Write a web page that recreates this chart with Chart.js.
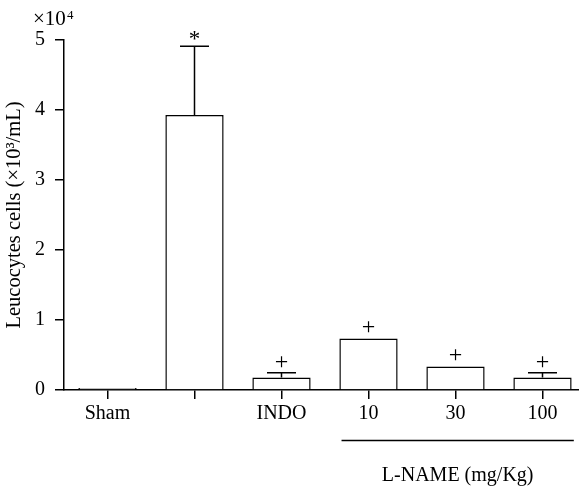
<!DOCTYPE html>
<html>
<head>
<meta charset="utf-8">
<script src="https://cdn.jsdelivr.net/npm/chart.js@4/dist/chart.umd.min.js"></script>
<style>
  html, body { margin: 0; padding: 0; background: #fff; overflow: hidden; }
  #wrap { width: 586px; height: 491px; position: relative; }
</style>
</head>
<body>
<div id="wrap"><canvas id="chart"></canvas></div>
<script>
const categories = ['Sham', '', 'INDO', '10', '30', '100'];
const means = [0.03, 3.93, 0.18, 0.735, 0.335, 0.18];
const errTops = [0.03, 4.91, 0.245, 0.745, 0.34, 0.245];
const markers = ['', '*', '+', '+', '+', '+'];
const yTicks = [0, 1, 2, 3, 4, 5];

const FONT = "'Liberation Serif', 'DejaVu Serif', serif";

const extras = {
  id: 'extras',
  afterDatasetsDraw(chart) {
    const ctx = chart.ctx;
    const x = chart.scales.x, y = chart.scales.y;
    ctx.save();
    ctx.strokeStyle = '#000';
    ctx.fillStyle = '#000';
    ctx.lineWidth = 1.5;
    // error bars
    means.forEach((m, i) => {
      const cx = x.getPixelForValue(i);
      const yb = y.getPixelForValue(m);
      const yt = y.getPixelForValue(errTops[i]);
      if (yb - yt > 2) {
        ctx.beginPath();
        ctx.moveTo(cx, yb);
        ctx.lineTo(cx, yt);
        ctx.moveTo(cx - 14.5, yt);
        ctx.lineTo(cx + 14.5, yt);
        ctx.stroke();
      }
      // markers
      if (markers[i]) {
        ctx.font = (markers[i] === '*' ? '23px ' : '24px ') + FONT;
        ctx.textAlign = 'center';
        ctx.textBaseline = 'alphabetic';
        ctx.fillText(markers[i], cx, yt - (markers[i] === '*' ? 0 : 4));
      }
    });
    // x10^4
    ctx.font = '21px ' + FONT;
    ctx.textAlign = 'left';
    ctx.textBaseline = 'alphabetic';
    ctx.fillText('\u00d710', 33, 25);
    ctx.font = '13px ' + FONT;
    ctx.fillText('4', 67, 19);
    // L-NAME group line
    const step = x.getPixelForValue(1) - x.getPixelForValue(0);
    const l = x.getPixelForValue(3) - 0.31 * step;
    const r = x.getPixelForValue(5) + 0.36 * step;
    ctx.lineWidth = 1.5;
    ctx.beginPath();
    ctx.moveTo(l, 440.5);
    ctx.lineTo(r, 440.5);
    ctx.stroke();
    ctx.font = '20px ' + FONT;
    ctx.textAlign = 'center';
    ctx.fillText('L-NAME (mg/Kg)', (l + r) / 2, 481);
    ctx.restore();
  }
};

new Chart(document.getElementById('chart'), {
  type: 'bar',
  data: {
    labels: categories,
    datasets: [{
      data: means,
      backgroundColor: '#fff',
      borderColor: '#000',
      borderWidth: 1.5,
      barPercentage: 0.67,
      categoryPercentage: 1
    }]
  },
  options: {
    responsive: true,
    maintainAspectRatio: false,
    animation: false,
    layout: { padding: { top: 40, right: 0, left: 0, bottom: 0 } },
    plugins: { legend: { display: false }, tooltip: { enabled: false } },
    scales: {
      x: {
        grid: { display: true, drawOnChartArea: false, drawTicks: true, tickLength: 9, color: '#000', lineWidth: 1.5, offset: false },
        border: { display: true, color: '#000', width: 1.5 },
        ticks: { color: '#000', font: { family: FONT, size: 20 }, padding: 3, maxRotation: 0 },
        afterFit(s) { s.height = 101; }
      },
      y: {
        min: 0,
        max: 5,
        afterBuildTicks(s) { s.ticks = yTicks.map(v => ({ value: v })); },
        grid: { display: true, drawOnChartArea: false, drawTicks: true, tickLength: 9, color: '#000', lineWidth: 1.5 },
        border: { display: true, color: '#000', width: 1.5 },
        ticks: { color: '#000', font: { family: FONT, size: 20 }, padding: 10 },
        title: {
          display: true,
          text: 'Leucocytes cells (\u00d710\u00b3/mL)',
          color: '#000',
          font: { family: FONT, size: 20.5 },
          padding: { top: 2, bottom: 0 }
        },
        afterFit(s) { s.width = 64; }
      }
    }
  },
  plugins: [extras]
});
</script>
</body>
</html>
